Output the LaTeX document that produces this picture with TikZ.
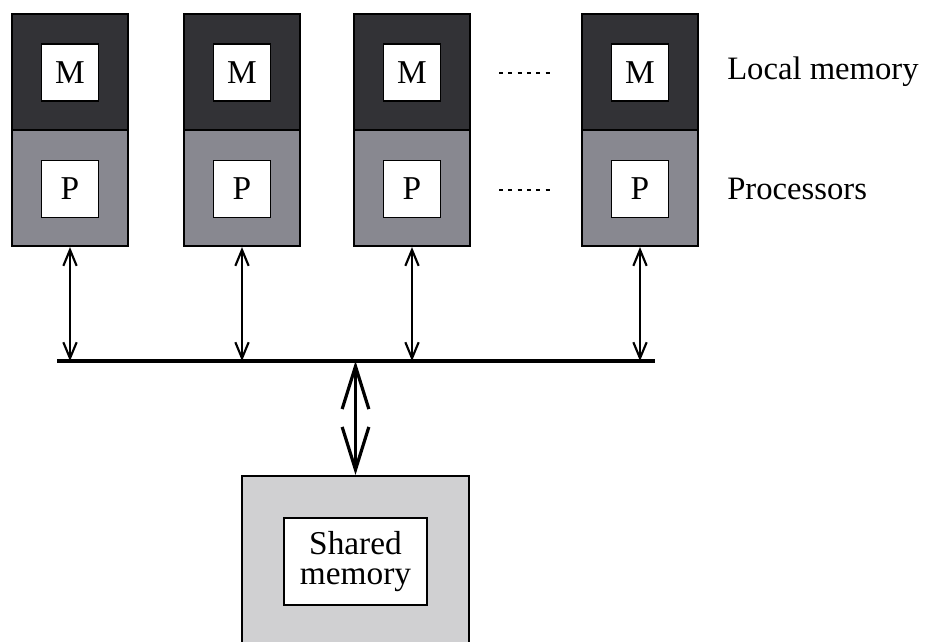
\documentclass[tikz,border=0pt]{standalone}
\usepackage{fontspec}
\setmainfont{Liberation Serif}
\usetikzlibrary{arrows.meta}
\definecolor{memdark}{RGB}{50,50,54}
\definecolor{procgray}{RGB}{136,136,144}
\definecolor{sharedgray}{RGB}{208,208,210}
\begin{document}
\begin{tikzpicture}[x=0.75pt,y=-0.75pt,
  memhalf/.style={draw=black,line width=1.6pt,fill=memdark,minimum width=87pt,minimum height=87pt,inner sep=0pt},
  prochalf/.style={draw=black,line width=1.6pt,fill=procgray,minimum width=87pt,minimum height=87pt,inner sep=0pt},
  unitbox/.style={draw=black,line width=1.3pt,fill=white,minimum width=42.75pt,minimum height=42.75pt,inner sep=0pt,font=\fontsize{25}{25}\selectfont},
  lbl/.style={anchor=west,inner sep=0pt,font=\fontsize{24.5}{24.5}\selectfont},
  link/.style={line width=1.6pt,{Straight Barb[length=12pt,width=10pt,line width=1.6pt]}-{Straight Barb[length=12pt,width=10pt,line width=1.6pt]}},
  mainlink/.style={line width=2.4pt,{Straight Barb[length=32pt,width=20pt,line width=2.4pt]}-{Straight Barb[length=32pt,width=20pt,line width=2.4pt]}},
  dotted row/.style={line width=1.6pt,dash pattern=on 3pt off 4pt}]
\useasboundingbox (0,0) rectangle (931,642);
\clip (0,0) rectangle (931,642);

% processor columns: local memory on top, processor below
\foreach \i/\cx in {1/70,2/242,3/412,4/640}{
  \node[memhalf]  (mem\i)  at (\cx,72)  {};
  \node[prochalf] (proc\i) at (\cx,188) {};
  \node[unitbox]  (m\i)    at (\cx,72.5) {M};
  \node[unitbox]  (p\i)    at (\cx,189) {P};
}

% ellipsis between the third and the last column
\coordinate (dm1) at (499,73);  \coordinate (dm2) at (552,73);
\coordinate (dp1) at (499,190); \coordinate (dp2) at (552,190);
\draw[dotted row] (dm1) -- (dm2);
\draw[dotted row] (dp1) -- (dp2);

% row labels
\node[lbl] (lmem)  at (727,72)  {Local memory};
\node[lbl] (lproc) at (727,189) {Processors};

% common bus
\coordinate (busL) at (57,361);
\coordinate (busR) at (655,361);
\draw[line width=2.4pt] (busL) -- (busR);
\foreach \i in {1,2,3,4}{
  \coordinate (b\i) at (proc\i.south |- busL);
  \draw[link] (proc\i.south) -- (b\i);
}

% shared memory
\node[draw=black,line width=1.6pt,fill=sharedgray,minimum width=170pt,minimum height=135pt,inner sep=0pt,anchor=north] (shared) at (355.5,475) {};
\node[draw=black,line width=1.3pt,fill=white,minimum width=107pt,minimum height=65pt,inner sep=0pt,align=center,font=\fontsize{25}{22}\selectfont] (sm) at (355.5,561.5) {Shared\\memory};
\coordinate (bus0) at (shared.north |- busL);
\draw[mainlink] (bus0) -- (shared.north);
\end{tikzpicture}
\end{document}
